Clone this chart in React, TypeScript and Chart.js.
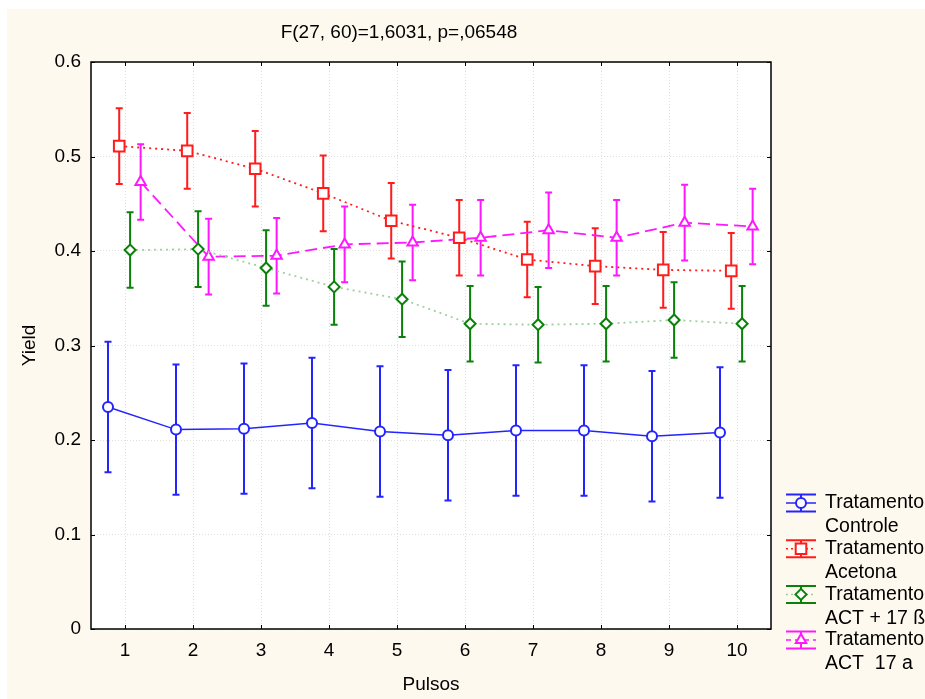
import React, { useEffect, useRef } from 'react';
import { Chart, registerables } from 'chart.js';
Chart.register(...registerables);

const pulsos = [1, 2, 3, 4, 5, 6, 7, 8, 9, 10];
const controle = [0.235, 0.211, 0.212, 0.218, 0.209, 0.205, 0.210, 0.210, 0.204, 0.208];
const acetona = [0.511, 0.506, 0.487, 0.461, 0.432, 0.414, 0.391, 0.384, 0.380, 0.379];
const act17b = [0.401, 0.402, 0.382, 0.362, 0.349, 0.323, 0.322, 0.323, 0.327, 0.323];
const act17a = [0.473, 0.394, 0.395, 0.407, 0.409, 0.414, 0.422, 0.414, 0.430, 0.426];
const errControle = [0.069, 0.069, 0.069, 0.069, 0.069, 0.069, 0.069, 0.069, 0.069, 0.069];
const errAcetona = [0.040, 0.040, 0.040, 0.040, 0.040, 0.040, 0.040, 0.040, 0.040, 0.040];
const errAct17b = [0.040, 0.040, 0.040, 0.040, 0.040, 0.040, 0.040, 0.040, 0.040, 0.040];
const errAct17a = [0.040, 0.040, 0.040, 0.040, 0.040, 0.040, 0.040, 0.040, 0.040, 0.040];
const yTicks = [0, 0.1, 0.2, 0.3, 0.4, 0.5, 0.6];
const titleText = 'F(27, 60)=1,6031, p=,06548';
const xTitle = 'Pulsos';
const yTitle = 'Yield';

const FONT = '"Liberation Sans", Arial, sans-serif';

type Series = {
  label: string[];
  values: number[];
  err: number[];
  color: string;
  lineColor: string;
  dash: number[];
  style: string;
  radius: number;
  offset: number;
};

const series: Series[] = [
  { label: ['Tratamento', 'Controle'], values: controle, err: errControle, color: '#2424ff', lineColor: '#2424ff', dash: [], style: 'circle', radius: 5, offset: -0.25 },
  { label: ['Tratamento', 'Acetona'], values: acetona, err: errAcetona, color: '#ff1c1c', lineColor: '#ff1c1c', dash: [2, 4], style: 'rect', radius: 7.5, offset: -0.085 },
  { label: ['Tratamento', 'ACT + 17 ß'], values: act17b, err: errAct17b, color: '#0a820a', lineColor: '#9fd09f', dash: [2, 4], style: 'rectRot', radius: 5.5, offset: 0.075 },
  { label: ['Tratamento', 'ACT  17 a'], values: act17a, err: errAct17a, color: '#ff18ff', lineColor: '#ff18ff', dash: [12, 6], style: 'triangle', radius: 6, offset: 0.23 },
];

function drawMarker(ctx: CanvasRenderingContext2D, style: string, x: number, y: number, r: number) {
  ctx.beginPath();
  if (style === 'circle') {
    ctx.arc(x, y, r, 0, Math.PI * 2);
  } else if (style === 'rect') {
    const s = Math.SQRT1_2 * r;
    ctx.rect(x - s, y - s, 2 * s, 2 * s);
  } else if (style === 'rectRot') {
    ctx.moveTo(x, y - r);
    ctx.lineTo(x + r, y);
    ctx.lineTo(x, y + r);
    ctx.lineTo(x - r, y);
    ctx.closePath();
  } else {
    const a = (2 * Math.PI) / 3;
    ctx.moveTo(x, y - r);
    ctx.lineTo(x + Math.sin(a) * r, y - Math.cos(a) * r);
    ctx.lineTo(x + Math.sin(2 * a) * r, y - Math.cos(2 * a) * r);
    ctx.closePath();
  }
  ctx.fillStyle = '#ffffff';
  ctx.fill();
  ctx.stroke();
}

const decorPlugin = {
  id: 'decor',
  beforeDraw(chart: any) {
    const { ctx, chartArea: a } = chart;
    ctx.save();
    ctx.fillStyle = '#fef9ee';
    ctx.fillRect(0, 0, chart.width, chart.height);
    ctx.fillStyle = '#ffffff';
    ctx.fillRect(a.left, a.top, a.right - a.left, a.bottom - a.top);
    ctx.restore();
  },
  beforeDatasetsDraw(chart: any) {
    const { ctx } = chart;
    const xs = chart.scales.x;
    const ys = chart.scales.y;
    ctx.save();
    series.forEach((s) => {
      ctx.strokeStyle = s.color;
      ctx.lineWidth = 2;
      s.values.forEach((v, i) => {
        const px = xs.getPixelForValue(pulsos[i] + s.offset);
        const top = ys.getPixelForValue(v + s.err[i]);
        const bot = ys.getPixelForValue(v - s.err[i]);
        ctx.beginPath();
        ctx.moveTo(px, top);
        ctx.lineTo(px, bot);
        ctx.moveTo(px - 3.5, top);
        ctx.lineTo(px + 3.5, top);
        ctx.moveTo(px - 3.5, bot);
        ctx.lineTo(px + 3.5, bot);
        ctx.stroke();
      });
    });
    ctx.restore();
  },
  afterDraw(chart: any) {
    const { ctx, chartArea: a } = chart;
    const xs = chart.scales.x;
    const ys = chart.scales.y;
    ctx.save();
    // frame
    ctx.strokeStyle = '#000';
    ctx.lineWidth = 1.5;
    ctx.strokeRect(a.left, a.top, a.right - a.left, a.bottom - a.top);
    // inward ticks
    ctx.lineWidth = 1;
    ctx.beginPath();
    pulsos.forEach((p) => {
      const px = Math.round(xs.getPixelForValue(p)) + 0.5;
      ctx.moveTo(px, a.bottom);
      ctx.lineTo(px, a.bottom - 4);
      ctx.moveTo(px, a.top);
      ctx.lineTo(px, a.top + 4);
    });
    yTicks.forEach((t) => {
      const py = Math.round(ys.getPixelForValue(t)) + 0.5;
      ctx.moveTo(a.left, py);
      ctx.lineTo(a.left + 4, py);
      ctx.moveTo(a.right, py);
      ctx.lineTo(a.right - 4, py);
    });
    ctx.stroke();

    // titles
    ctx.fillStyle = '#000';
    ctx.font = `19px ${FONT}`;
    ctx.textAlign = 'center';
    ctx.textBaseline = 'middle';
    ctx.fillText(titleText, 392, 24);
    ctx.fillText(xTitle, (a.left + a.right) / 2, 676);
    ctx.save();
    ctx.translate(23, (a.top + a.bottom) / 2);
    ctx.rotate(-Math.PI / 2);
    ctx.fillText(yTitle, 0, 0);
    ctx.restore();

    // legend
    const x0 = 779;
    const x1 = 809;
    const xc = (x0 + x1) / 2;
    series.forEach((s, i) => {
      const y = 494 + i * 45.7;
      ctx.strokeStyle = s.color;
      ctx.lineWidth = 2;
      ctx.setLineDash([]);
      ctx.beginPath();
      ctx.moveTo(x0, y - 8.5);
      ctx.lineTo(x1, y - 8.5);
      ctx.moveTo(x0, y + 8.5);
      ctx.lineTo(x1, y + 8.5);
      ctx.moveTo(xc, y - 8.5);
      ctx.lineTo(xc, y + 8.5);
      ctx.stroke();
      ctx.strokeStyle = s.lineColor;
      ctx.lineWidth = 1.5;
      ctx.setLineDash(s.dash.length ? (s.dash[0] > 5 ? [5, 4] : [2, 3]) : []);
      ctx.beginPath();
      ctx.moveTo(x0, y);
      ctx.lineTo(x1, y);
      ctx.stroke();
      ctx.setLineDash([]);
      ctx.strokeStyle = s.color;
      ctx.lineWidth = 2;
      drawMarker(ctx, s.style, xc, y, s.radius);
      ctx.fillStyle = '#000';
      ctx.textAlign = 'left';
      ctx.textBaseline = 'middle';
      ctx.font = `19.5px ${FONT}`;
      ctx.fillText(s.label[0], 818, y);
      ctx.fillText(s.label[1], 818, y + 24);
    });
    ctx.restore();
  },
};

export default function App() {
  const ref = useRef<HTMLCanvasElement>(null);
  useEffect(() => {
    const canvas = ref.current;
    if (!canvas) return;
    const chart = new Chart(canvas, {
      type: 'line',
      data: {
        datasets: series.map((s) => ({
          label: s.label.join(' '),
          data: s.values.map((v, i) => ({ x: pulsos[i] + s.offset, y: v })),
          borderColor: s.lineColor,
          borderWidth: s.dash.length ? 1.8 : 1.5,
          borderDash: s.dash,
          pointStyle: s.style as any,
          pointRadius: s.radius,
          pointBorderColor: s.color,
          pointBackgroundColor: '#ffffff',
          pointBorderWidth: 2,
          tension: 0,
          fill: false,
        })),
      },
      options: {
        animation: false,
        responsive: false,
        maintainAspectRatio: false,
        layout: { padding: { top: 53, right: 154, left: 0, bottom: 0 } },
        plugins: { legend: { display: false }, tooltip: { enabled: false }, title: { display: false } },
        scales: {
          x: {
            type: 'linear',
            min: 0.5,
            max: 10.5,
            afterBuildTicks: (scale: any) => {
              scale.ticks = pulsos.map((p) => ({ value: p }));
            },
            afterFit: (scale: any) => {
              scale.height = 70;
            },
            ticks: {
              font: { family: FONT, size: 19 },
              color: '#000',
              padding: 10,
              callback: (v: any) => String(v),
            },
            grid: { color: '#dedede', drawTicks: false },
            border: { display: false, dash: [1, 2] } as any,
          },
          y: {
            type: 'linear',
            min: 0,
            max: 0.6,
            afterBuildTicks: (scale: any) => {
              scale.ticks = yTicks.map((t) => ({ value: t }));
            },
            afterFit: (scale: any) => {
              scale.width = 84;
            },
            ticks: {
              font: { family: FONT, size: 19 },
              color: '#000',
              padding: 10,
              callback: (v: any) => (Number(v) === 0 ? '0' : Number(v).toFixed(1)),
            },
            grid: { color: '#dedede', drawTicks: false },
            border: { display: false, dash: [1, 2] } as any,
          },
        },
      } as any,
      plugins: [decorPlugin],
    });
    return () => chart.destroy();
  }, []);
  return (
    <div style={{ position: 'fixed', left: 0, top: 0, width: 925, height: 699, background: '#ffffff', overflow: 'hidden' }}>
      <canvas ref={ref} width={918} height={690} style={{ position: 'absolute', left: 7, top: 9, width: 918, height: 690 }} />
    </div>
  );
}
